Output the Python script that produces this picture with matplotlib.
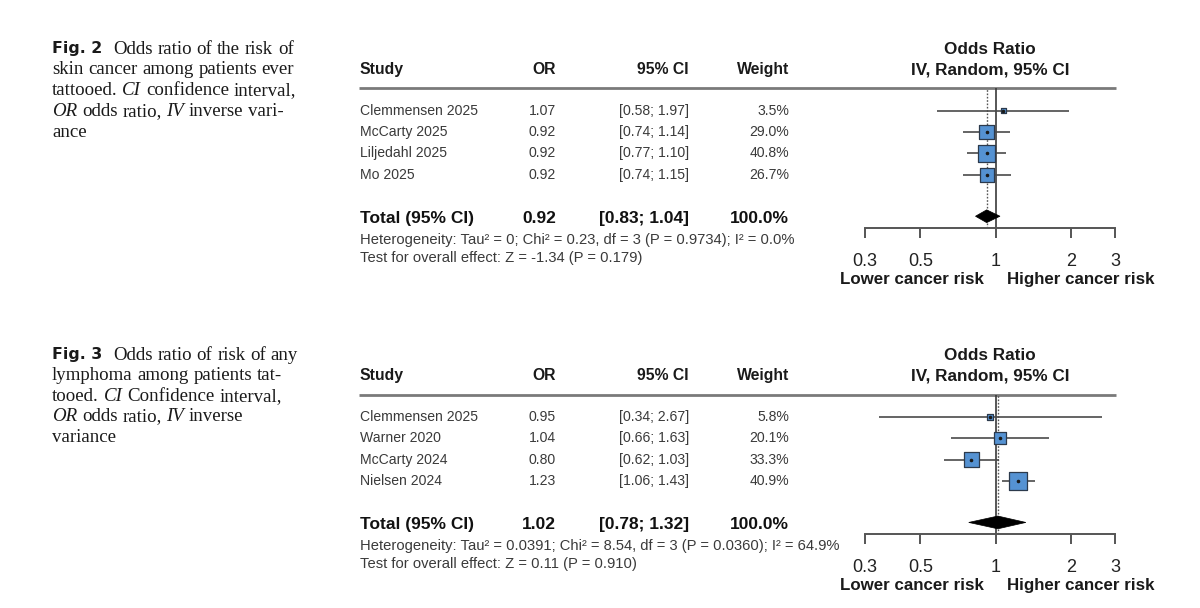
import re
import matplotlib
matplotlib.use("Agg")
import matplotlib.pyplot as plt
from matplotlib.patches import Polygon
from matplotlib.ticker import FixedLocator, NullLocator, FixedFormatter

# ---------------- data ----------------
studies_skin = ["Clemmensen 2025", "McCarty 2025", "Liljedahl 2025", "Mo 2025"]
or_skin = [1.07, 0.92, 0.92, 0.92]
lo_skin = [0.58, 0.74, 0.77, 0.74]
hi_skin = [1.97, 1.14, 1.10, 1.15]
w_skin = [3.5, 29.0, 40.8, 26.7]
total_skin = [0.92, 0.83, 1.04]
het_skin = "Heterogeneity: Tau² = 0; Chi² = 0.23, df = 3 (P = 0.9734); I² = 0.0%"
test_skin = "Test for overall effect: Z = -1.34 (P = 0.179)"

studies_lym = ["Clemmensen 2025", "Warner 2020", "McCarty 2024", "Nielsen 2024"]
or_lym = [0.95, 1.04, 0.80, 1.23]
lo_lym = [0.34, 0.66, 0.62, 1.06]
hi_lym = [2.67, 1.63, 1.03, 1.43]
w_lym = [5.8, 20.1, 33.3, 40.9]
total_lym = [1.02, 0.78, 1.32]
het_lym = "Heterogeneity: Tau² = 0.0391; Chi² = 8.54, df = 3 (P = 0.0360); I² = 64.9%"
test_lym = "Test for overall effect: Z = 0.11 (P = 0.910)"

tick_vals = [0.3, 0.5, 1, 2, 3]
tick_labels = ["0.3", "0.5", "1", "2", "3"]
col_headers = ["Study", "OR", "95% CI", "Weight"]
plot_title = ["Odds Ratio", "IV, Random, 95% CI"]
dir_labels = ["Lower cancer risk", "Higher cancer risk"]

caption2 = [
    [("Fig. 2", "fig"), ("Odds ratio of the risk of", "rm")],
    [("skin cancer among patients ever", "rm")],
    [("tattooed. ", "rm"), ("CI", "it"), (" confidence interval,", "rm")],
    [("OR", "it"), (" odds ratio, ", "rm"), ("IV", "it"), (" inverse vari-", "rm")],
    [("ance", "rm")],
]
caption3 = [
    [("Fig. 3", "fig"), ("Odds ratio of risk of any", "rm")],
    [("lymphoma among patients tat-", "rm")],
    [("tooed. ", "rm"), ("CI", "it"), (" Confidence interval,", "rm")],
    [("OR", "it"), (" odds ratio, ", "rm"), ("IV", "it"), (" inverse", "rm")],
    [("variance", "rm")],
]

# ---------------- figure ----------------
W, H = 1200, 608
plt.rcParams["font.family"] = ["Liberation Sans", "DejaVu Sans"]
fig = plt.figure(figsize=(W / 100, H / 100), dpi=100)
fig.patch.set_facecolor("white")

ov = fig.add_axes([0, 0, 1, 1])
ov.set_xlim(0, W)
ov.set_ylim(H, 0)
ov.axis("off")

ROW = 21.3
YLIM = (5.5, -1.05)
SQ_COL = "#5592d2"
SQ_EDGE = "#2c3a4c"
LINE_COL = "#4a4a4a"
BODY_COL = "#3a3a3a"


def panel(row0, studies, ors, los, his, ws, total, het, test):
    top = row0 + YLIM[1] * ROW
    bot = row0 + YLIM[0] * ROW
    # table axes (full width, pixel x)
    tb = fig.add_axes([0, 1 - bot / H, 1, (bot - top) / H])
    tb.set_xlim(0, W)
    tb.set_ylim(*YLIM)
    tb.axis("off")
    tb.plot([359, 1116], [YLIM[1], YLIM[1]], color="#7a7a7a", lw=2.0,
            solid_capstyle="butt", clip_on=False)
    hy = -1.93
    tb.text(360, hy, col_headers[0], ha="left", va="center", fontsize=11.3,
            fontweight="bold", color="#1a1a1a")
    tb.text(556, hy, col_headers[1], ha="right", va="center", fontsize=11.3,
            fontweight="bold", color="#1a1a1a")
    tb.text(689, hy, col_headers[2], ha="right", va="center", fontsize=11.3,
            fontweight="bold", color="#1a1a1a")
    tb.text(789, hy, col_headers[3], ha="right", va="center", fontsize=11.3,
            fontweight="bold", color="#1a1a1a")
    tb.text(990, -2.9, plot_title[0], ha="center", va="center", fontsize=12.3,
            fontweight="bold", color="#1a1a1a")
    tb.text(990, -1.93, plot_title[1], ha="center", va="center", fontsize=12.3,
            fontweight="bold", color="#1a1a1a")
    for i, s in enumerate(studies):
        tb.text(360, i, s, ha="left", va="center", fontsize=10.1, color=BODY_COL)
        tb.text(556, i, f"{ors[i]:.2f}", ha="right", va="center", fontsize=10.1, color=BODY_COL)
        tb.text(689, i, f"[{los[i]:.2f}; {his[i]:.2f}]", ha="right", va="center",
                fontsize=10.1, color=BODY_COL)
        tb.text(789, i, f"{ws[i]:.1f}%", ha="right", va="center", fontsize=10.1, color=BODY_COL)
    ty = 5.05
    tb.text(360, ty, "Total (95% CI)", ha="left", va="center", fontsize=12.5,
            fontweight="bold", color="#111111")
    tb.text(556, ty, f"{total[0]:.2f}", ha="right", va="center", fontsize=12.5,
            fontweight="bold", color="#111111")
    tb.text(689, ty, f"[{total[1]:.2f}; {total[2]:.2f}]", ha="right", va="center",
            fontsize=12.5, fontweight="bold", color="#111111")
    tb.text(789, ty, "100.0%", ha="right", va="center", fontsize=12.5,
            fontweight="bold", color="#111111")
    tb.text(360, 6.05, het, ha="left", va="center", fontsize=10.6, color=BODY_COL)
    tb.text(360, 6.92, test, ha="left", va="center", fontsize=10.6, color=BODY_COL)
    tb.text(912, 7.93, dir_labels[0], ha="center", va="center", fontsize=12.2,
            fontweight="bold", color="#1a1a1a")
    tb.text(1081, 7.93, dir_labels[1], ha="center", va="center", fontsize=12.2,
            fontweight="bold", color="#1a1a1a")

    # forest axes
    ax = fig.add_axes([865 / W, 1 - bot / H, 250 / W, (bot - top) / H])
    ax.set_facecolor("none")
    ax.set_xscale("log")
    ax.set_xlim(tick_vals[0], tick_vals[-1])
    ax.set_ylim(*YLIM)
    for sp in ["top", "left", "right"]:
        ax.spines[sp].set_visible(False)
    ax.spines["bottom"].set_color("#555555")
    ax.spines["bottom"].set_linewidth(1.4)
    ax.xaxis.set_major_locator(FixedLocator(tick_vals))
    ax.xaxis.set_major_formatter(FixedFormatter(tick_labels))
    ax.xaxis.set_minor_locator(NullLocator())
    ax.tick_params(axis="x", direction="out", length=7.5, width=1.4, color="#555555",
                   labelsize=13, labelcolor="#222222", pad=10.5)
    ax.set_yticks([])
    ax.axvline(1, color="#3a3a3a", lw=1.2, zorder=1)
    ax.axvline(total[0], color="#555555", lw=1.0, ls=(0, (1.2, 1.2)), zorder=1)
    rows = list(range(len(studies)))
    ax.hlines(rows, los, his, color=LINE_COL, lw=1.2, zorder=2)
    sides_pt = [17.5 * (w / 41.0) ** 0.5 * 0.72 for w in ws]
    ax.scatter(ors, rows, marker="s", s=[s ** 2 for s in sides_pt], facecolor=SQ_COL,
               edgecolor=SQ_EDGE, linewidth=0.9, zorder=3)
    ax.scatter(ors, rows, marker="o", s=2.5, color="#1a1a1a", zorder=4)
    dy = 4.95
    h = 0.3
    ax.add_patch(Polygon([(total[1], dy), (total[0], dy - h), (total[2], dy),
                          (total[0], dy + h)], closed=True, facecolor="black",
                         edgecolor="black", lw=0.5, zorder=4))
    return ax


panel(110.8, studies_skin, or_skin, lo_skin, hi_skin, w_skin, total_skin, het_skin, test_skin)
panel(417.0, studies_lym, or_lym, lo_lym, hi_lym, w_lym, total_lym, het_lym, test_lym)

# ---------------- captions ----------------
styles = {
    "fig": dict(family=["DejaVu Sans"], fontweight="bold", fontsize=11.3, color="#1a1a1a"),
    "rm": dict(family=["Liberation Serif"], fontsize=13.6, color="#1a1a1a"),
    "it": dict(family=["Liberation Serif"], fontstyle="italic", fontsize=13.6, color="#1a1a1a"),
}
renderer = fig.canvas.get_renderer()


def width_of(s, st):
    t = ov.text(0, 0, s, **styles[st])
    w = t.get_window_extent(renderer).width
    t.remove()
    return w


space_w = {k: width_of("a a", k) - width_of("aa", k) for k in styles}


def draw_caption(lines, y0, dy):
    for i, frags in enumerate(lines):
        y = y0 + dy * i
        x = 52
        for text, st in frags:
            if st == "fig":
                ov.text(x, y, text, ha="left", va="center", **styles[st])
                x = 113
                continue
            for tok in re.split(r"( )", text):
                if tok == "":
                    continue
                if tok == " ":
                    x += space_w[st]
                    continue
                t = ov.text(x, y, tok, ha="left", va="center", **styles[st])
                x += t.get_window_extent(renderer).width


draw_caption(caption2, 49, 20.8)
draw_caption(caption3, 355, 20.6)

fig.savefig("out.png", dpi=100, facecolor="white")
